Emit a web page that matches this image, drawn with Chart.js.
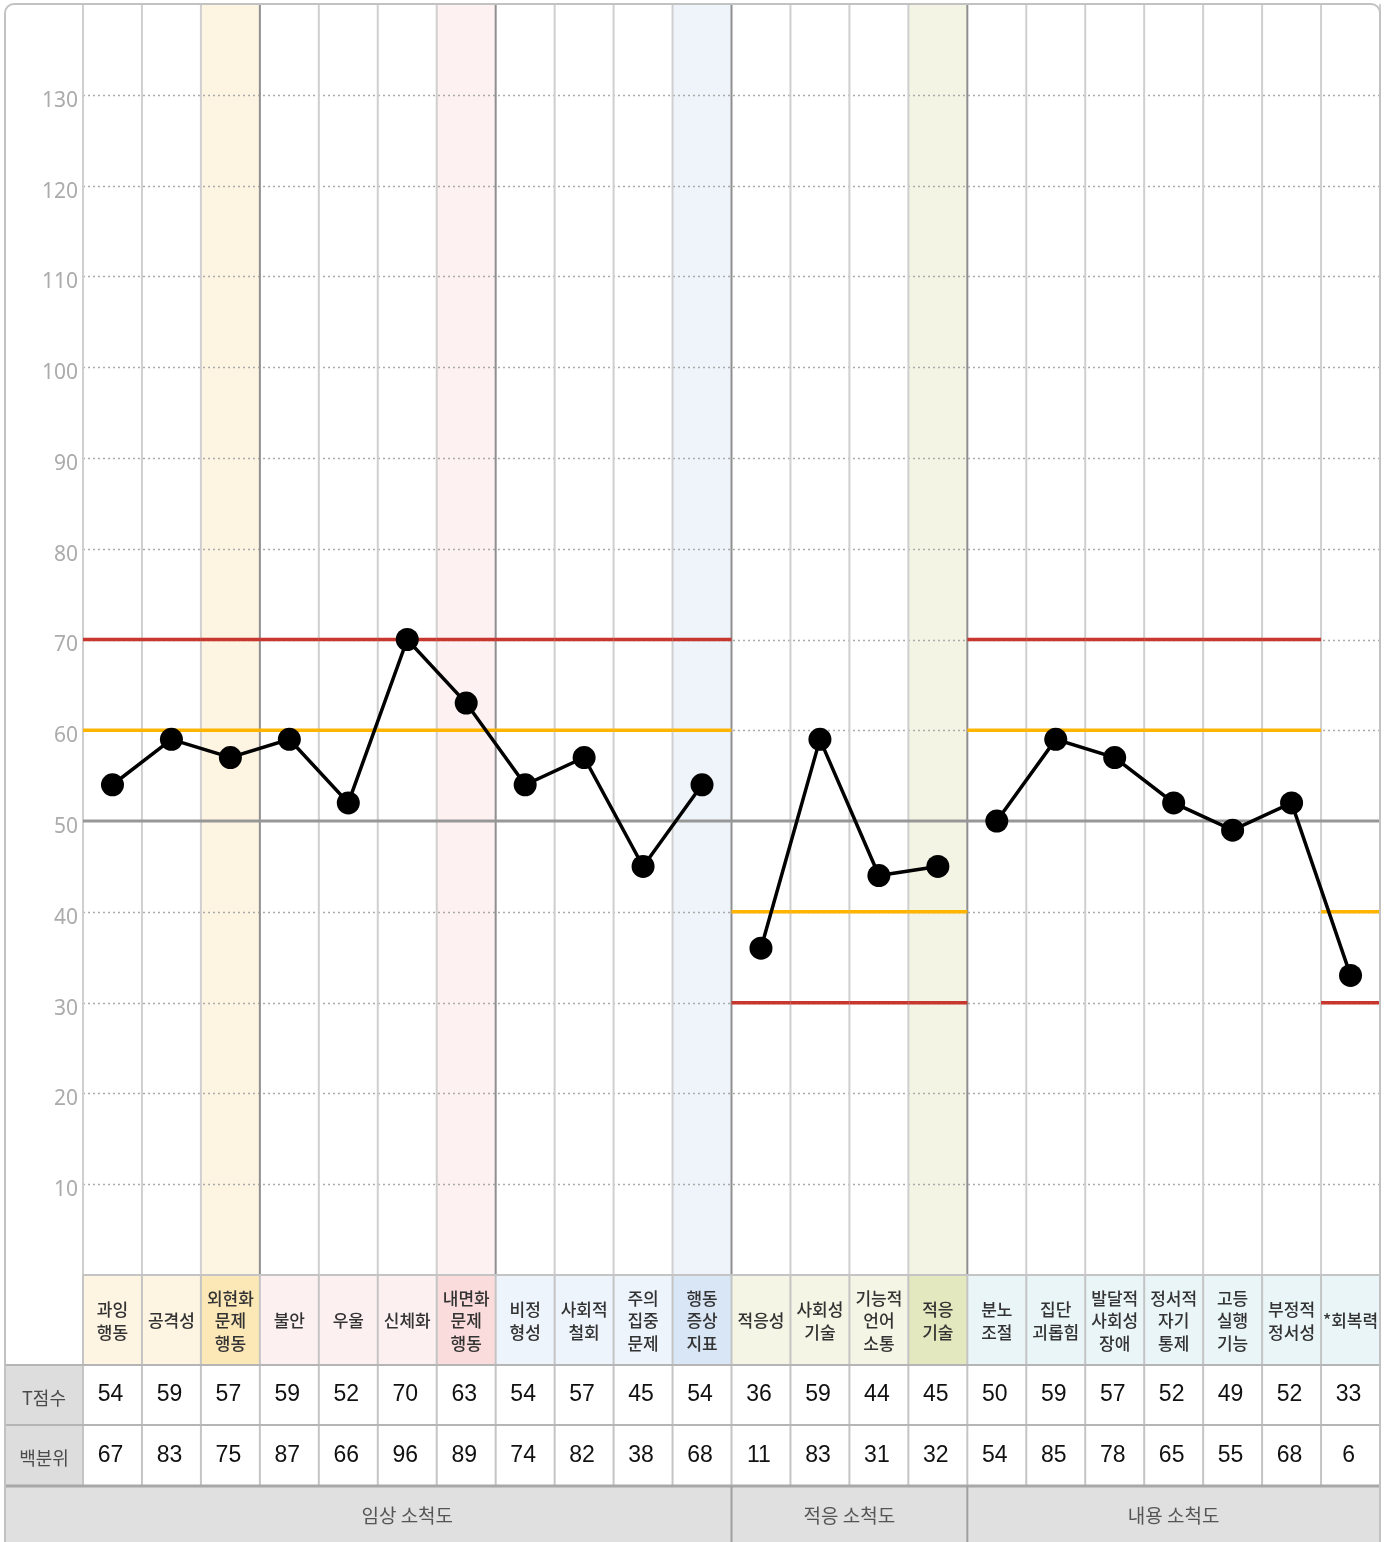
<!DOCTYPE html>
<html><head><meta charset="utf-8">
<script src="https://cdn.jsdelivr.net/npm/chart.js@4"></script>
<style>html,body{margin:0;padding:0;background:#fff}canvas{display:block}</style>
</head><body>
<canvas id="c" width="1391" height="1542" style="width:1391px;height:1542px"></canvas>
<script>
// ---- data ----
const categories = [['과잉','행동'],['공격성'],['외현화','문제','행동'],['불안'],['우울'],['신체화'],['내면화','문제','행동'],['비정','형성'],['사회적','철회'],['주의','집중','문제'],['행동','증상','지표'],['적응성'],['사회성','기술'],['기능적','언어','소통'],['적응','기술'],['분노','조절'],['집단','괴롭힘'],['발달적','사회성','장애'],['정서적','자기','통제'],['고등','실행','기능'],['부정적','정서성'],['*회복력']];
const tScores = [54,59,57,59,52,70,63,54,57,45,54,36,59,44,45,50,59,57,52,49,52,33];
const percentiles = [67,83,75,87,66,96,89,74,82,38,68,11,83,31,32,54,85,78,65,55,68,6];
const groupNames = ['임상 소척도','적응 소척도','내용 소척도'];
const groupSizes = [11,4,7];
const rowLabels = ['T점수','백분위'];
const yTicks = [10,20,30,40,50,60,70,80,90,100,110,120,130];
// direction of cut-offs per column: 'H' = high is bad (60/70), 'L' = low is bad (40/30)
const cutDir = ['H','H','H','H','H','H','H','H','H','H','H','L','L','L','L','H','H','H','H','H','H','L'];
const cutHigh = [60,70];
const cutLow = [40,30];
const meanLine = 50;
// composite columns (highlighted)
const compositeCols = [2,6,10,14];

// ---- styles ----
const plotBg = {2:'#fdf4e2',6:'#fdf1f1',10:'#eff4fb',14:'#f3f4e3'};
const headBg = ['#fdf4e2','#fdf4e2','#fce8b6','#fdf0f0','#fdf0f0','#fdf0f0','#fbdcdc','#eef4fb','#eef4fb','#eef4fb','#d9e6f5','#f4f5e4','#f4f5e4','#f4f5e4','#e4e8bf','#eaf5f8','#eaf5f8','#eaf5f8','#eaf5f8','#eaf5f8','#eaf5f8','#eaf5f8'];
const RED = '#c8372e', ORANGE = '#ffb400';
const KR = '"Noto Sans CJK KR", "Noto Sans", sans-serif';
const NUM = '"Liberation Sans", Arial, sans-serif';

// build line segments (break between groups)
const datasets = [];
let start = 0;
groupSizes.forEach((n) => {
  const d = tScores.map((v, i) => (i >= start && i < start + n) ? v : null);
  datasets.push({data: d, borderColor:'#000', backgroundColor:'#000', borderWidth:3.5,
    pointRadius:11.5, pointHoverRadius:11.5, pointBackgroundColor:'#000', pointBorderWidth:0,
    spanGaps:false, tension:0, clip:false});
  start += n;
});

const HEAD_H = 90, ROW_H = 60, ROW2_H = 61;

const deco = {
  id:'deco',
  beforeDatasetsDraw(chart){
    const ctx = chart.ctx, x = chart.scales.x, y = chart.scales.y, ca = chart.chartArea;
    const hw = (x.getPixelForValue(1) - x.getPixelForValue(0)) / 2;
    ctx.save();
    Object.keys(plotBg).forEach(k => {
      const cx = x.getPixelForValue(+k);
      ctx.fillStyle = plotBg[k];
      ctx.fillRect(cx - hw, ca.top, hw*2, ca.bottom - ca.top);
    });
    ctx.strokeStyle = '#aaaaaa'; ctx.lineWidth = 1.5; ctx.setLineDash([2,3]);
    yTicks.forEach(v => {
      if (v === meanLine) return;
      const py = Math.round(y.getPixelForValue(v)) + 0.5;
      ctx.beginPath(); ctx.moveTo(ca.left, py); ctx.lineTo(ca.right, py); ctx.stroke();
    });
    ctx.setLineDash([]);
    for (let i = 0; i <= categories.length; i++) {
      const px = (i < categories.length ? x.getPixelForValue(i) - hw : x.getPixelForValue(i-1) + hw);
      const dark = compositeCols.includes(i - 1);
      ctx.strokeStyle = dark ? '#8f8f8f' : '#cfcfcf';
      ctx.lineWidth = 2;
      ctx.beginPath(); ctx.moveTo(px, ca.top); ctx.lineTo(px, ca.bottom); ctx.stroke();
    }
    ctx.strokeStyle = '#979797'; ctx.lineWidth = 3;
    const my = y.getPixelForValue(meanLine);
    ctx.beginPath(); ctx.moveTo(ca.left, my); ctx.lineTo(ca.right, my); ctx.stroke();
    ctx.lineWidth = 3.5; ctx.lineCap = 'butt';
    cutDir.forEach((d, i) => {
      const cx = x.getPixelForValue(i);
      const vals = d === 'H' ? cutHigh : cutLow;
      [[vals[0], ORANGE],[vals[1], RED]].forEach(([v,c]) => {
        const py = y.getPixelForValue(v);
        ctx.strokeStyle = c;
        ctx.beginPath(); ctx.moveTo(cx - hw, py); ctx.lineTo(cx + hw, py); ctx.stroke();
      });
    });
    ctx.fillStyle = '#ababab'; ctx.font = '21px "Noto Sans", "DejaVu Sans", sans-serif';
    ctx.textAlign = 'right'; ctx.textBaseline = 'middle';
    yTicks.forEach(v => ctx.fillText(String(v), ca.left - 5, y.getPixelForValue(v) + 6));
    ctx.restore();
  },
  afterDraw(chart){
    const ctx = chart.ctx, x = chart.scales.x, ca = chart.chartArea;
    const hw = (x.getPixelForValue(1) - x.getPixelForValue(0)) / 2;
    const L = 5, R = ca.right;
    const hTop = ca.bottom, hBot = hTop + HEAD_H, r1Bot = hBot + ROW_H, r2Bot = r1Bot + ROW2_H, gBot = chart.height + 20;
    ctx.save();
    categories.forEach((lines, i) => {
      const cx = x.getPixelForValue(i);
      ctx.fillStyle = headBg[i];
      ctx.fillRect(cx - hw, hTop, hw*2, HEAD_H);
      ctx.fillStyle = '#333'; ctx.font = '500 17px ' + KR;
      ctx.textAlign = 'center'; ctx.textBaseline = 'middle';
      const lh = 22.5, my = (hTop + hBot) / 2 + 1;
      lines.forEach((t, k) => ctx.fillText(t, cx, my + (k - (lines.length - 1)/2) * lh));
    });
    ctx.fillStyle = '#dddddd';
    ctx.fillRect(L, hBot, ca.left - L, r2Bot - hBot);
    ctx.fillStyle = '#e0e0e0';
    ctx.fillRect(L, r2Bot, R - L, gBot - r2Bot);
    ctx.fillStyle = '#4a4a4a'; ctx.font = '18px ' + KR; ctx.textAlign = 'center'; ctx.textBaseline = 'middle';
    ctx.fillText(rowLabels[0], (L + ca.left)/2, (hBot + r1Bot)/2 + 3);
    ctx.fillText(rowLabels[1], (L + ca.left)/2, (r1Bot + r2Bot)/2 + 3);
    ctx.fillStyle = '#111'; ctx.font = '23px ' + NUM;
    tScores.forEach((v, i) => ctx.fillText(String(v), x.getPixelForValue(i) - 2, (hBot + r1Bot)/2));
    percentiles.forEach((v, i) => ctx.fillText(String(v), x.getPixelForValue(i) - 2, (r1Bot + r2Bot)/2));
    ctx.strokeStyle = '#c4c4c4'; ctx.lineWidth = 2;
    for (let i = 0; i <= categories.length; i++) {
      const px = (i < categories.length ? x.getPixelForValue(i) - hw : x.getPixelForValue(i-1) + hw);
      ctx.beginPath(); ctx.moveTo(px, hTop); ctx.lineTo(px, r2Bot); ctx.stroke();
    }
    ctx.beginPath(); ctx.moveTo(ca.left, hTop); ctx.lineTo(R, hTop); ctx.stroke();
    ctx.strokeStyle = '#b5b5b5';
    [hBot, r1Bot].forEach(yy => { ctx.beginPath(); ctx.moveTo(L, yy); ctx.lineTo(R, yy); ctx.stroke(); });
    ctx.strokeStyle = '#a8a8a8'; ctx.lineWidth = 3;
    ctx.beginPath(); ctx.moveTo(L, r2Bot); ctx.lineTo(R, r2Bot); ctx.stroke();
    let s = 0;
    ctx.font = '19px ' + KR;
    groupSizes.forEach((n, g) => {
      const x0 = x.getPixelForValue(s) - hw, x1 = x.getPixelForValue(s + n - 1) + hw;
      ctx.fillStyle = '#555';
      ctx.fillText(groupNames[g], (x0 + x1)/2, (r2Bot + chart.height)/2 + 2);
      if (g > 0) {
        ctx.strokeStyle = '#a0a0a0'; ctx.lineWidth = 2;
        ctx.beginPath(); ctx.moveTo(x0, r2Bot); ctx.lineTo(x0, gBot); ctx.stroke();
      }
      s += n;
    });
    ctx.strokeStyle = '#c2c2c2'; ctx.lineWidth = 2;
    ctx.beginPath(); ctx.roundRect(L, ca.top, R - L, gBot - ca.top, 9); ctx.stroke();
    ctx.restore();
  }
};

new Chart(document.getElementById('c'), {
  type:'line',
  data:{ labels: categories, datasets },
  options:{
    responsive:false, animation:false, devicePixelRatio:1,
    layout:{ autoPadding:false, padding:{ left:83, right:11, top:4, bottom:267 } },
    plugins:{ legend:{display:false}, tooltip:{enabled:false} },
    scales:{
      x:{ type:'category', offset:true, display:false },
      y:{ min:0, max:140, display:false }
    }
  },
  plugins:[deco]
});
</script>
</body></html>
